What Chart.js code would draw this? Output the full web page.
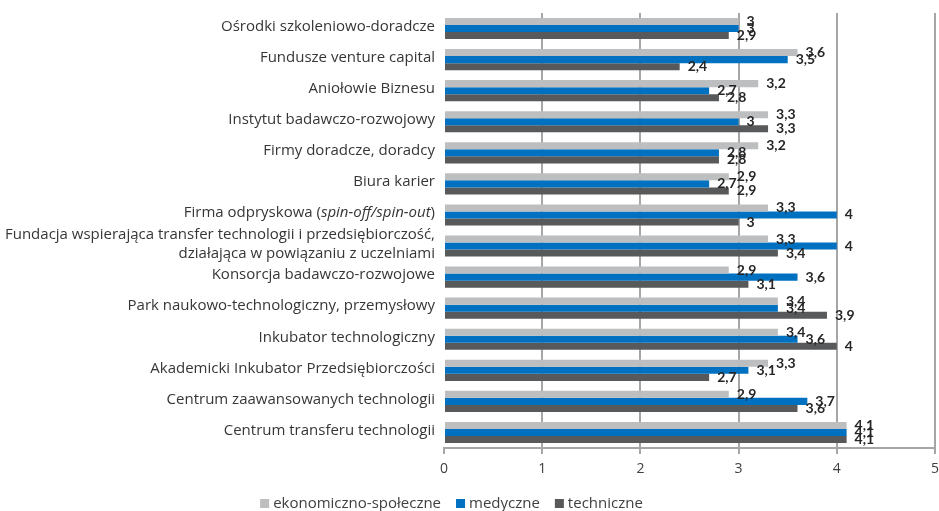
<!DOCTYPE html>
<html><head><meta charset="utf-8">
<script src="https://cdn.jsdelivr.net/npm/chart.js@4"></script>
<style>html,body{margin:0;padding:0;background:#fff;overflow:hidden}#wrap{width:939px;height:511px;position:relative}</style>
</head><body><div id="wrap"><canvas id="c"></canvas></div>
<script>
// Category labels (text between underscores is italic)
const categories = [
  "Ośrodki szkoleniowo-doradcze",
  "Fundusze venture capital",
  "Aniołowie Biznesu",
  "Instytut badawczo-rozwojowy",
  "Firmy doradcze, doradcy",
  "Biura karier",
  "Firma odpryskowa (_spin-off/spin-out_)",
  ["Fundacja wspierająca transfer technologii i przedsiębiorczość,", "działająca w powiązaniu z uczelniami"],
  "Konsorcja badawczo-rozwojowe",
  "Park naukowo-technologiczny, przemysłowy",
  "Inkubator technologiczny",
  "Akademicki Inkubator Przedsiębiorczości",
  "Centrum zaawansowanych technologii",
  "Centrum transferu technologii"
];
const seriesNames = ["ekonomiczno-społeczne", "medyczne", "techniczne"];
const ekonomiczneSpoleczne = [3, 3.6, 3.2, 3.3, 3.2, 2.9, 3.3, 3.3, 2.9, 3.4, 3.4, 3.3, 2.9, 4.1];
const medyczne =             [3, 3.5, 2.7, 3,   2.8, 2.7, 4,   4,   3.6, 3.4, 3.6, 3.1, 3.7, 4.1];
const techniczne =           [2.9, 2.4, 2.8, 3.3, 2.8, 2.9, 3, 3.4, 3.1, 3.9, 4,   2.7, 3.6, 4.1];
const xMin = 0, xMax = 5, xStep = 1;

const colors = ["#BDBEC0", "#0070C0", "#58595B"];
const LABEL_FONT = '"Open Sans", "Noto Sans", sans-serif';

function drawMixed(ctx, text, right, y) {
  const parts = text.split('_');
  const fonts = parts.map((_, i) => (i % 2 ? 'italic ' : '') + '15px ' + LABEL_FONT);
  let total = 0;
  const widths = parts.map((p, i) => { ctx.font = fonts[i]; const w = ctx.measureText(p).width; total += w; return w; });
  let x = right - total;
  ctx.textAlign = 'left';
  parts.forEach((p, i) => { ctx.font = fonts[i]; ctx.fillText(p, x, y); x += widths[i]; });
}

const yLabels = {
  id: 'yLabels',
  afterDraw(chart) {
    const ctx = chart.ctx, y = chart.scales.y;
    ctx.save();
    ctx.fillStyle = '#363636';
    ctx.textBaseline = 'middle';
    const right = chart.chartArea.left - 9;
    categories.forEach((lab, i) => {
      const py = y.getPixelForTick(i) - 2;
      const lines = Array.isArray(lab) ? lab : [lab];
      const lh = 19;
      lines.forEach((line, k) => {
        drawMixed(ctx, line, right, py + (k - (lines.length - 1) / 2) * lh);
      });
    });
    ctx.restore();
  }
};

const valueLabels = {
  id: 'valueLabels',
  afterDatasetsDraw(chart) {
    const ctx = chart.ctx;
    ctx.save();
    ctx.font = 'bold 14px Lato, "Open Sans", sans-serif';
    ctx.fillStyle = '#262626';
    ctx.textBaseline = 'middle';
    ctx.textAlign = 'left';
    chart.data.datasets.forEach((ds, di) => {
      chart.getDatasetMeta(di).data.forEach((bar, i) => {
        ctx.fillText(String(ds.data[i]).replace('.', ','), bar.x + 8, bar.y);
      });
    });
    ctx.restore();
  }
};

// Custom legend: small square + label, centred under the chart
const customLegend = {
  id: 'customLegend',
  afterDraw(chart) {
    const ctx = chart.ctx;
    ctx.save();
    ctx.font = '15px ' + LABEL_FONT;
    ctx.textBaseline = 'alphabetic';
    ctx.textAlign = 'left';
    const box = 9, gap = 4, spacing = 15;
    const items = chart.data.datasets.map(ds => ({ text: ds.label, color: ds.backgroundColor, w: ctx.measureText(ds.label).width }));
    const total = items.reduce((s, it) => s + box + gap + it.w, 0) + spacing * (items.length - 1);
    const centre = (chart.chartArea.left + chart.chartArea.right) / 2 - 238;
    let x = centre - total / 2;
    const boxTop = 499;
    items.forEach(it => {
      ctx.fillStyle = it.color;
      ctx.fillRect(x, boxTop, box, box);
      ctx.fillStyle = '#404040';
      ctx.fillText(it.text, x + box + gap, boxTop + box);
      x += box + gap + it.w + spacing;
    });
    ctx.restore();
  }
};

new Chart(document.getElementById('c'), {
  type: 'bar',
  data: {
    labels: categories,
    datasets: [
      { label: seriesNames[0], data: ekonomiczneSpoleczne, backgroundColor: colors[0] },
      { label: seriesNames[1], data: medyczne, backgroundColor: colors[1] },
      { label: seriesNames[2], data: techniczne, backgroundColor: colors[2] }
    ]
  },
  options: {
    indexAxis: 'y',
    responsive: true,
    maintainAspectRatio: false,
    animation: false,
    layout: { padding: { top: 13, right: 4, left: 0, bottom: 29 } },
    datasets: { bar: { categoryPercentage: 0.68, barPercentage: 1, borderWidth: 0 } },
    scales: {
      x: {
        min: xMin, max: xMax,
        ticks: { stepSize: xStep, padding: 7, color: '#404040', font: { size: 14, family: LABEL_FONT } },
        grid: {
          color: c => (c.tick && c.tick.value === 0) ? 'rgba(0,0,0,0)' : '#A6A6A6',
          lineWidth: 2, tickLength: 6, tickColor: '#A6A6A6', tickWidth: 2
        },
        border: { display: true, color: '#A6A6A6', width: 2 },
        afterFit(scale) { scale.height = 34; scale.paddingRight = 4; scale.paddingLeft = 0; }
      },
      y: {
        ticks: { display: false },
        grid: { display: false },
        border: { display: false },
        afterFit(scale) { scale.width = 444; }
      }
    },
    plugins: {
      legend: { display: false },
      tooltip: { enabled: false }
    }
  },
  plugins: [yLabels, valueLabels, customLegend]
});
</script>
</body></html>
